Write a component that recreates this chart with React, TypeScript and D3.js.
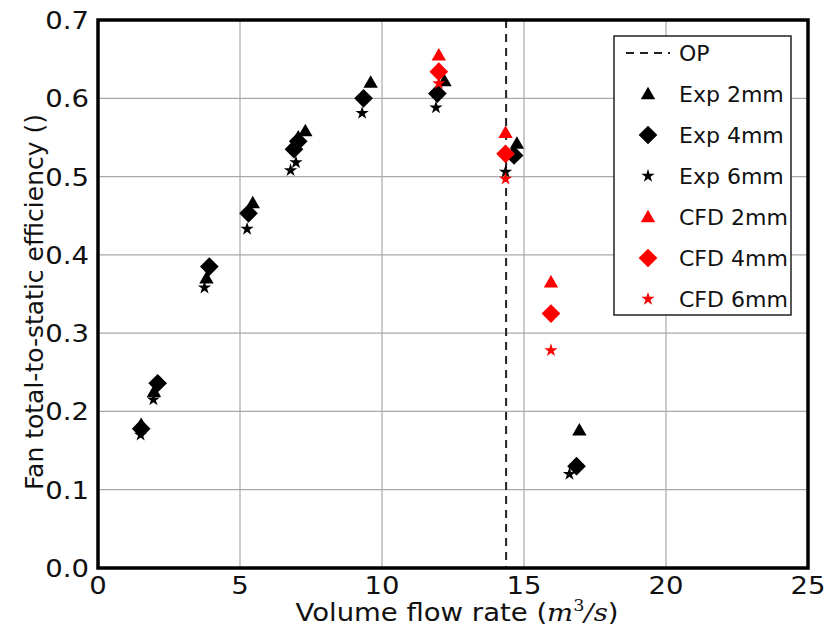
import React from "react";
import * as d3 from "d3";

const xTicks = [0, 5, 10, 15, 20, 25];
const yTicks = [0.0, 0.1, 0.2, 0.3, 0.4, 0.5, 0.6, 0.7];
const opFlow = 14.37;

const exp2mm: [number, number][] = [
  [1.52, 0.183], [1.97, 0.225], [3.82, 0.37], [5.45, 0.466], [7.05, 0.55], [7.3, 0.558],
  [9.6, 0.62], [12.2, 0.622], [14.75, 0.542], [16.95, 0.176],
];
const exp4mm: [number, number][] = [
  [1.52, 0.178], [2.1, 0.236], [3.92, 0.385], [5.3, 0.453], [6.9, 0.535], [7.05, 0.545],
  [9.35, 0.6], [11.95, 0.606], [14.65, 0.527], [16.85, 0.13],
];
const exp6mm: [number, number][] = [
  [1.5, 0.17], [1.95, 0.215], [3.75, 0.358], [5.25, 0.433], [6.78, 0.508], [6.97, 0.518],
  [9.3, 0.581], [11.9, 0.588], [14.35, 0.506], [16.6, 0.12],
];
const cfd2mm: [number, number][] = [[12.0, 0.655], [14.35, 0.556], [15.95, 0.365]];
const cfd4mm: [number, number][] = [[12.0, 0.634], [14.35, 0.529], [15.95, 0.325]];
const cfd6mm: [number, number][] = [[12.0, 0.619], [14.35, 0.497], [15.95, 0.278]];

type Shape = "tri" | "dia" | "star";
const seriesList: { name: string; data: [number, number][]; shape: Shape; color: string }[] = [
  { name: "Exp 2mm", data: exp2mm, shape: "tri", color: "#000000" },
  { name: "Exp 4mm", data: exp4mm, shape: "dia", color: "#000000" },
  { name: "Exp 6mm", data: exp6mm, shape: "star", color: "#000000" },
  { name: "CFD 2mm", data: cfd2mm, shape: "tri", color: "#ff0000" },
  { name: "CFD 4mm", data: cfd4mm, shape: "dia", color: "#ff0000" },
  { name: "CFD 6mm", data: cfd6mm, shape: "star", color: "#ff0000" },
];

const W = 826, H = 635;
const L = 98, R = 808, T = 20, B = 568;
const FONT = "'DejaVu Sans', sans-serif";
const SX = 1.1;

const symPath = (s: Shape) => {
  if (s === "tri") return d3.symbol().type(d3.symbolTriangle).size(90)()!;
  if (s === "dia") return d3.symbol().type(d3.symbolSquare).size(175)()!;
  return d3.symbol().type(d3.symbolStar).size(55)()!;
};
const symTransform = (s: Shape, x: number, y: number) =>
  s === "dia" ? `translate(${x},${y}) rotate(45)` : s === "tri" ? `translate(${x},${y + 1})` : `translate(${x},${y})`;

export default function App() {
  const x = d3.scaleLinear().domain([0, 25]).range([L, R]);
  const y = d3.scaleLinear().domain([0, 0.7]).range([B, T]);
  const legendX = 614, legendY = 36, legendW = 177, legendH = 279;
  const rowY = (i: number) => legendY + 17 + i * 41;
  return (
    <svg width={W} height={H} style={{ position: "absolute", left: 0, top: 0, background: "#fff" }} fontFamily={FONT}>
      <rect x={0} y={0} width={W} height={H} fill="#fff" />
      {/* grid */}
      {xTicks.slice(1, -1).map((t) => (
        <line key={"gx" + t} x1={x(t)} x2={x(t)} y1={T} y2={B} stroke="#a8a8a8" strokeWidth={1.2} />
      ))}
      {yTicks.slice(1, -1).map((t) => (
        <line key={"gy" + t} x1={L} x2={R} y1={y(t)} y2={y(t)} stroke="#a8a8a8" strokeWidth={1.2} />
      ))}
      {/* OP line */}
      <line x1={x(opFlow)} x2={x(opFlow)} y1={T} y2={B} stroke="#222" strokeWidth={2} strokeDasharray="8,6" />
      {/* markers */}
      {seriesList.map((s) => (
        <g key={s.name} fill={s.color}>
          {s.data.map((d, i) => (
            <path key={i} d={symPath(s.shape)} transform={symTransform(s.shape, x(d[0]), y(d[1]))} />
          ))}
        </g>
      ))}
      {/* frame */}
      <rect x={L} y={T} width={R - L} height={B - T} fill="none" stroke="#000" strokeWidth={3.5} />
      {/* ticks labels */}
      {xTicks.map((t) => (
        <text key={"xt" + t} transform={`translate(${x(t)},${B + 26}) scale(${SX},1)`} textAnchor="middle" fontSize={25} fill="#111">
          {t}
        </text>
      ))}
      {yTicks.map((t) => (
        <text key={"yt" + t} transform={`translate(${L - 9},${y(t) + 9}) scale(${SX},1)`} textAnchor="end" fontSize={25} fill="#111">
          {t.toFixed(1)}
        </text>
      ))}
      {/* axis labels */}
      <text transform={`translate(${(L + R) / 2 + 4},621) scale(${SX},1)`} textAnchor="middle" fontSize={25} fill="#111">
        Volume flow rate (<tspan fontFamily="'DejaVu Serif', serif" fontStyle="italic">m</tspan>
        <tspan fontFamily="'DejaVu Serif', serif" fontSize={16} dy={-10}>3</tspan>
        <tspan fontFamily="'DejaVu Serif', serif" fontStyle="italic" dy={10}>/s</tspan>)
      </text>
      <text transform={`translate(43,302) rotate(-90)`} textAnchor="middle" fontSize={25} fill="#111">
        Fan total-to-static efficiency ()
      </text>
      {/* legend */}
      <rect x={legendX} y={legendY} width={legendW} height={legendH} fill="#fff" stroke="#222" strokeWidth={1.5} />
      <line x1={626} x2={670} y1={rowY(0)} y2={rowY(0)} stroke="#222" strokeWidth={2} strokeDasharray="8,6" />
      <text x={679} y={rowY(0) + 8} fontSize={22} fill="#111">OP</text>
      {seriesList.map((s, i) => (
        <g key={"lg" + s.name}>
          <path d={symPath(s.shape)} transform={symTransform(s.shape, 648, rowY(i + 1))} fill={s.color} />
          <text x={679} y={rowY(i + 1) + 8} fontSize={22} fill="#111">{s.name}</text>
        </g>
      ))}
    </svg>
  );
}
